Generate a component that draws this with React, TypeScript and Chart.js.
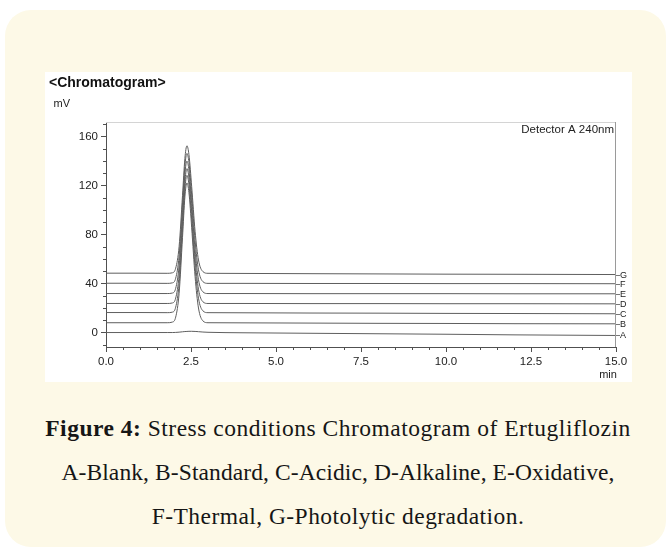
import React, { useEffect, useRef } from 'react';
import { Chart, registerables } from 'chart.js';

Chart.register(...registerables);

// ---- data ----
const timeMin = [0, 1.0, 1.8, 1.95, 2.05, 2.15, 2.25, 2.32, 2.38, 2.44, 2.52, 2.62, 2.72, 2.85, 3.0, 4.0, 6.0, 8.0, 10.0, 12.0, 15.0];

const traceLabels = ['A', 'B', 'C', 'D', 'E', 'F', 'G'];

const traceA = [0, 0, 0, 0, 0.1, 0.3, 0.6, 0.8, 0.9, 1.0, 1.0, 0.9, 0.7, 0.4, 0.2, -0.2, -0.6, -1.0, -1.4, -1.9, -2.4];
const traceB = [8.0, 8.0, 8.0, 8.5, 12.6, 31.9, 77.5, 110.6, 122.0, 114.0, 85.5, 45.6, 20.0, 9.5, 8.0, 7.9, 7.7, 7.5, 7.4, 7.2, 7.1];
const traceC = [16.3, 16.3, 16.2, 16.6, 20.7, 39.7, 84.5, 117.0, 128.2, 120.4, 92.4, 53.2, 28.0, 17.7, 16.2, 16.1, 15.9, 15.8, 15.6, 15.5, 15.3];
const traceD = [23.7, 23.7, 23.7, 24.1, 28.1, 46.8, 90.8, 122.7, 133.7, 126.0, 98.5, 60.0, 35.3, 25.1, 23.7, 23.7, 23.6, 23.6, 23.5, 23.5, 23.4];
const traceE = [31.8, 31.8, 31.8, 32.2, 36.1, 54.5, 97.7, 129.0, 139.8, 132.2, 105.2, 67.4, 43.1, 33.2, 31.8, 31.8, 31.7, 31.7, 31.7, 31.6, 31.6];
const traceF = [40.2, 40.2, 40.1, 40.5, 44.3, 62.4, 104.8, 135.5, 146.1, 138.7, 112.2, 75.1, 51.2, 41.5, 40.1, 40.1, 40.0, 40.0, 39.9, 39.9, 39.8];
const traceG = [48.4, 48.4, 48.3, 48.7, 52.5, 70.1, 111.7, 141.9, 152.3, 145.0, 119.0, 82.6, 59.2, 49.7, 48.3, 48.2, 48.0, 47.8, 47.6, 47.5, 47.3];

const traces = [traceA, traceB, traceC, traceD, traceE, traceF, traceG];

const xTicks = [0, 2.5, 5, 7.5, 10, 12.5, 15];
const xMinorTicks = [0.5, 1, 1.5, 2, 3, 3.5, 4, 4.5, 5.5, 6, 6.5, 7, 8, 8.5, 9, 9.5, 10.5, 11, 11.5, 12, 13, 13.5, 14, 14.5];
const yTicks = [0, 40, 80, 120, 160];
const yMinorTicks = [-10, 10, 20, 30, 50, 60, 70, 90, 100, 110, 130, 140, 150, 170];

const chartTitle = '<Chromatogram>';
const yUnit = 'mV';
const xUnit = 'min';
const detectorLabel = 'Detector A 240nm';

const captionBold = 'Figure 4:';
const captionLine1 = ' Stress conditions Chromatogram of Ertugliflozin';
const captionLine2 = 'A-Blank, B-Standard, C-Acidic, D-Alkaline, E-Oxidative,';
const captionLine3 = 'F-Thermal, G-Photolytic degradation.';

const SANS = '"Liberation Sans", Arial, sans-serif';
const AXIS = '#505050';

const decorPlugin = {
  id: 'decor',
  afterDraw(chart: any) {
    const { ctx, chartArea: a, scales } = chart;
    const x = scales.x;
    const y = scales.y;
    ctx.save();
    ctx.lineWidth = 1;
    // top and right frame
    ctx.strokeStyle = '#d4d4d4';
    ctx.beginPath();
    ctx.moveTo(a.left, Math.round(a.top) + 0.5);
    ctx.lineTo(a.right, Math.round(a.top) + 0.5);
    ctx.stroke();
    ctx.strokeStyle = '#9a9a9a';
    ctx.beginPath();
    ctx.moveTo(Math.round(a.right) - 0.5, a.top);
    ctx.lineTo(Math.round(a.right) - 0.5, a.bottom);
    ctx.stroke();
    // minor ticks
    ctx.strokeStyle = AXIS;
    ctx.beginPath();
    xMinorTicks.forEach((v) => {
      const px = Math.round(x.getPixelForValue(v)) + 0.5;
      ctx.moveTo(px, a.bottom);
      ctx.lineTo(px, a.bottom + 3);
    });
    yMinorTicks.forEach((v) => {
      const py = Math.round(y.getPixelForValue(v)) + 0.5;
      ctx.moveTo(a.left, py);
      ctx.lineTo(a.left - 3, py);
    });
    ctx.stroke();
    // trace labels on the right
    ctx.font = `9px ${SANS}`;
    ctx.fillStyle = '#222';
    ctx.textAlign = 'left';
    ctx.textBaseline = 'middle';
    chart.data.datasets.forEach((ds: any) => {
      const last = ds.data[ds.data.length - 1];
      const py = y.getPixelForValue(last.y);
      ctx.strokeStyle = '#777';
      ctx.beginPath();
      ctx.moveTo(a.right, Math.round(py) + 0.5);
      ctx.lineTo(a.right + 4, Math.round(py) + 0.5);
      ctx.stroke();
      ctx.fillText(ds.label, a.right + 4, py + 0.5);
    });
    // detector label
    ctx.font = `11.5px ${SANS}`;
    ctx.textAlign = 'right';
    ctx.fillText(detectorLabel, a.right - 2, a.top + 8);
    // title and unit
    ctx.textAlign = 'left';
    ctx.font = `bold 14px ${SANS}`;
    ctx.fillStyle = '#111';
    ctx.fillText(chartTitle, 4, 11);
    ctx.font = `11px ${SANS}`;
    ctx.fillStyle = '#222';
    ctx.fillText(yUnit, 8.5, 32);
    // x unit under last tick label
    ctx.textAlign = 'center';
    ctx.fillText(xUnit, x.getPixelForValue(15) - 8, a.bottom + 28);
    ctx.restore();
  },
};

function ChromatogramChart() {
  const canvasRef = useRef<HTMLCanvasElement | null>(null);
  useEffect(() => {
    const canvas = canvasRef.current;
    if (!canvas) return;
    const chart = new Chart(canvas, {
      type: 'line',
      data: {
        datasets: traces.map((vals, i) => ({
          label: traceLabels[i],
          data: timeMin.map((t, j) => ({ x: t, y: vals[j] })),
          borderColor: '#5e5e5e',
          borderWidth: 1,
          pointRadius: 0,
          fill: false,
          cubicInterpolationMode: 'monotone' as const,
        })),
      },
      options: {
        responsive: false,
        maintainAspectRatio: false,
        animation: false,
        layout: { padding: { left: 0, top: 50, right: 16, bottom: 0 } },
        plugins: { legend: { display: false }, tooltip: { enabled: false }, title: { display: false } },
        scales: {
          x: {
            type: 'linear',
            min: 0,
            max: 15,
            afterBuildTicks: (s: any) => {
              s.ticks = xTicks.map((v) => ({ value: v }));
            },
            afterFit: (s: any) => {
              s.height = 35;
            },
            ticks: {
              autoSkip: false,
              maxRotation: 0,
              padding: 3,
              color: '#222',
              font: { family: SANS, size: 11.5 },
              callback: (v: any) => Number(v).toFixed(1),
            },
            grid: { drawOnChartArea: false, drawTicks: true, tickLength: 5, color: AXIS },
            border: { display: true, color: AXIS, width: 1 },
          },
          y: {
            type: 'linear',
            min: -11.8,
            max: 171.7,
            afterBuildTicks: (s: any) => {
              s.ticks = yTicks.map((v) => ({ value: v }));
            },
            afterFit: (s: any) => {
              s.width = 61;
            },
            ticks: {
              autoSkip: false,
              padding: 3,
              color: '#222',
              font: { family: SANS, size: 11.5 },
              callback: (v: any) => String(v),
            },
            grid: { drawOnChartArea: false, drawTicks: true, tickLength: 5, color: AXIS },
            border: { display: true, color: AXIS, width: 1 },
          },
        },
      },
      plugins: [decorPlugin],
    });
    return () => chart.destroy();
  }, []);
  return <canvas ref={canvasRef} width={587} height={310} style={{ display: 'block', width: 587, height: 310 }} />;
}

const capStyle: React.CSSProperties = {
  position: 'absolute',
  left: 0,
  width: 676,
  textAlign: 'center',
  fontFamily: '"Liberation Serif", "Times New Roman", serif',
  fontSize: 23.5,
  lineHeight: '23.5px',
  color: '#161616',
  whiteSpace: 'nowrap',
};

export default function App() {
  return (
    <div style={{ position: 'absolute', left: 0, top: 0, width: 668, height: 548, overflow: 'hidden', background: '#ffffff' }}>
      <div style={{ position: 'absolute', left: 5, top: 10, width: 661, height: 537, borderRadius: 26, background: '#FDF9E7' }} />
      <div style={{ position: 'absolute', left: 45, top: 72, width: 587, height: 310, background: '#ffffff' }}>
        <ChromatogramChart />
      </div>
      <div style={{ ...capStyle, top: 417, letterSpacing: 0.5 }}>
        <b>{captionBold}</b>
        {captionLine1}
      </div>
      <div style={{ ...capStyle, top: 461, letterSpacing: 0.1 }}>{captionLine2}</div>
      <div style={{ ...capStyle, top: 505, letterSpacing: 0.45 }}>{captionLine3}</div>
    </div>
  );
}
